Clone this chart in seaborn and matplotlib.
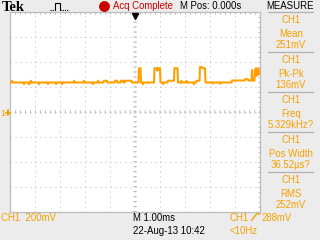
import numpy as np
import pandas as pd
import matplotlib
matplotlib.use("Agg")
import matplotlib.pyplot as plt
from matplotlib.lines import Line2D
import seaborn as sns

# CH1 trace: time (ms, 1.00 ms/div, centre = 0) and voltage (mV, 200 mV/div, ground at centre)
time_ms = [
    -5.00, -4.94, -4.92, -4.90, -4.46, -4.44, -4.42, -4.26, -4.24, -4.22, -4.18, -4.16, -4.14,
    -3.86, -3.84, -3.82, -3.50, -3.48, -3.46, -3.18, -3.16, -3.14, -2.94, -2.92, -2.90,
    -2.46, -2.44, -2.42, -2.06, -2.04, -2.02, -1.70, -1.68, -1.66, -1.50, -1.48, -1.46,
    -1.26, -1.24, -1.12, -1.10, -0.82, -0.80, -0.72, -0.70, -0.58, -0.56, -0.48, -0.46,
    -0.42, -0.40, -0.14, -0.12,
    0.14, 0.16, 0.22, 0.24, 0.30, 0.32, 0.34,
    0.76, 0.78, 0.88, 0.90, 0.92, 1.00, 1.02,
    1.10, 1.12, 1.14, 1.30, 1.32, 1.56, 1.58, 1.70, 1.72,
    1.84, 1.86, 1.88, 2.04, 2.06, 2.08, 2.34, 2.36, 2.38, 2.44, 2.46, 2.58,
    2.60, 2.68, 2.70, 2.80, 2.82,
    3.10, 3.12, 3.14, 3.40, 3.42, 3.44, 3.86, 3.88,
    4.38, 4.40, 4.52, 4.54, 4.66, 4.68, 4.70,
    4.78, 4.80, 4.82, 4.84, 4.86, 4.88, 4.90, 4.92, 4.94, 4.96, 4.98, 5.00,
]
trace_mv = [
    236, 236, 250, 236, 236, 222, 236, 236, 222, 236, 236, 250, 236,
    236, 222, 236, 236, 224, 236, 236, 224, 236, 236, 222, 236,
    236, 250, 236, 236, 250, 236, 236, 222, 236, 236, 250, 236,
    236, 250, 250, 236, 236, 250, 250, 236, 236, 250, 250, 236,
    236, 250, 250, 236,
    236, 350, 350, 236, 236, 222, 236,
    236, 350, 350, 330, 350, 350, 236,
    236, 224, 236, 236, 250, 250, 350, 350, 236,
    236, 250, 236, 236, 250, 236, 236, 222, 236, 236, 250, 250,
    360, 360, 350, 350, 236,
    236, 228, 236, 236, 228, 236, 236, 252,
    252, 262, 262, 252, 252, 336, 252,
    252, 340, 300, 350, 290, 345, 305, 350, 300, 340, 310, 330,
]

meas_channel = "CH1"
meas_names = ["Mean", "Pk-Pk", "Freq", "Pos Width", "RMS"]
meas_values = ["251mV", "136mV", "5.329kHz?", "36.52µs?", "252mV"]

ch_scale = "CH1  200mV"
time_scale = "M 1.00ms"
date_text = "22-Aug-13 10:42"
trig_level = "288mV"
trig_freq = "<10Hz"
acq_state = "Acq Complete"
m_pos = "M Pos: 0.000s"

# ---------------- style ----------------
W, H = 320, 240
BG = "#ececec"
ORANGE = "#f7a000"
TRACE = "#ffa000"
GRID = "#bdbdbd"
BORDER = "#bcbcbc"
RED = "#cc0000"

sns.set_style("white")
plt.rcParams["font.family"] = ["Liberation Sans", "DejaVu Sans"]
FS = 6.9


def fx(x):
    return x / W


def fy(y):
    return 1 - y / H


fig = plt.figure(figsize=(W / 100, H / 100), dpi=100, facecolor=BG)
ax = fig.add_axes([fx(10), fy(212), 250 / W, 200 / H])
ax.set_facecolor("white")
ax.set_axisbelow(True)

df = pd.DataFrame({"t": time_ms, "v": trace_mv})
sns.lineplot(data=df, x="t", y="v", ax=ax, color=TRACE, lw=1.5,
             estimator=None, sort=False, legend=False, zorder=3)

ax.set_xlim(-5, 5)
ax.set_ylim(-800, 800)
ax.set_xticks(np.arange(-5, 5.01, 1))
ax.set_yticks(np.arange(-800, 801, 200))
ax.set_xticks(np.arange(-5, 5.01, 0.2), minor=True)
ax.set_yticks(np.arange(-800, 801, 40), minor=True)
ax.tick_params(which="both", direction="in", length=1.6, width=0.72, color=GRID,
               top=True, right=True, labelbottom=False, labelleft=False)
ax.set_xlabel("")
ax.set_ylabel("")
ax.grid(True, which="major", color=GRID, lw=0.72, linestyle=(0, (1, 4)))
ax.axhline(0, color=GRID, lw=2.6, linestyle=(0, (0.28, 1.1)), zorder=1)
ax.axvline(0, color=GRID, lw=2.6, linestyle=(0, (0.28, 1.1)), zorder=1)
for s in ax.spines.values():
    s.set_color(BORDER)
    s.set_linewidth(0.9)

# ---------------- top bar ----------------
fig.text(fx(1.5), fy(10.8), "Tek", family=["Liberation Serif", "DejaVu Serif"],
         weight="bold", size=10.5, color="black", va="baseline")
tf = fig.transFigure
fig.add_artist(Line2D([fx(50), fx(55)], [fy(10), fy(10)], transform=tf, color="black",
                      lw=0.8, linestyle=(0, (1, 1))))
fig.add_artist(Line2D([fx(55), fx(55), fx(60), fx(60)], [fy(10), fy(2.5), fy(2.5), fy(10)],
                      transform=tf, color="black", lw=0.8))
fig.add_artist(Line2D([fx(60), fx(69)], [fy(10), fy(10)], transform=tf, color="black",
                      lw=0.8, linestyle=(0, (1, 1))))
fig.add_artist(Line2D([fx(104)], [fy(5.5)], transform=tf, marker="o", ms=6.8,
                      color=RED, mec=RED, lw=0))
fig.text(fx(113), fy(9), acq_state, size=FS, color=RED, va="baseline")
fig.text(fx(180), fy(9), m_pos, size=FS, color="black", va="baseline")
fig.text(fx(290), fy(9), "MEASURE", size=FS, color="black", va="baseline", ha="center")

# trigger position marker
fig.add_artist(Line2D([fx(132.8), fx(137.6)], [fy(14), fy(14)], transform=tf,
                      color="black", lw=1.0))
fig.add_artist(Line2D([fx(135.2)], [fy(16.3)], transform=tf, marker="v", ms=4.2,
                      color="black", lw=0))

# ground marker
fig.text(fx(0.6), fy(115.7), "1", size=6.3, color=ORANGE, va="baseline")
fig.add_artist(Line2D([fx(5.8), fx(10)], [fy(112.5), fy(112.5)], transform=tf,
                      color=ORANGE, lw=1.4))
fig.add_artist(Line2D([fx(7.8), fx(7.8)], [fy(110), fy(115)], transform=tf,
                      color=ORANGE, lw=1.4))

# ---------------- measurement panel ----------------
for i, (name, val) in enumerate(zip(meas_names, meas_values)):
    y0 = 12 + 40 * i
    fig.add_artist(Line2D([fx(267.5), fx(313)], [fy(y0), fy(y0)], transform=tf,
                          color="#b0b0b0", lw=0.9))
    fig.text(fx(291), fy(y0 + 11.4), meas_channel, size=FS, color=ORANGE,
             ha="center", va="baseline")
    fig.text(fx(291), fy(y0 + 24.6), name, size=FS, color=ORANGE,
             ha="center", va="baseline")
    fig.text(fx(291), fy(y0 + 36.0), val, size=FS, color=ORANGE,
             ha="center", va="baseline")

# ---------------- bottom bar ----------------
fig.text(fx(1), fy(220.7), ch_scale, size=FS, color=ORANGE, va="baseline")
fig.text(fx(133), fy(220.7), time_scale, size=FS, color="black", va="baseline")
fig.text(fx(133), fy(234), date_text, size=FS, color="black", va="baseline")
fig.text(fx(230), fy(220.7), "CH1", size=FS, color=ORANGE, va="baseline")
fig.add_artist(Line2D([fx(251.5), fx(256.5), fx(260)], [fy(220.5), fy(214), fy(214)],
                      transform=tf, color=ORANGE, lw=1.0))
fig.text(fx(262), fy(220.7), trig_level, size=FS, color=ORANGE, va="baseline")
fig.text(fx(230), fy(234), trig_freq, size=FS, color=ORANGE, va="baseline")

fig.savefig("out.png", dpi=100, facecolor=BG)
